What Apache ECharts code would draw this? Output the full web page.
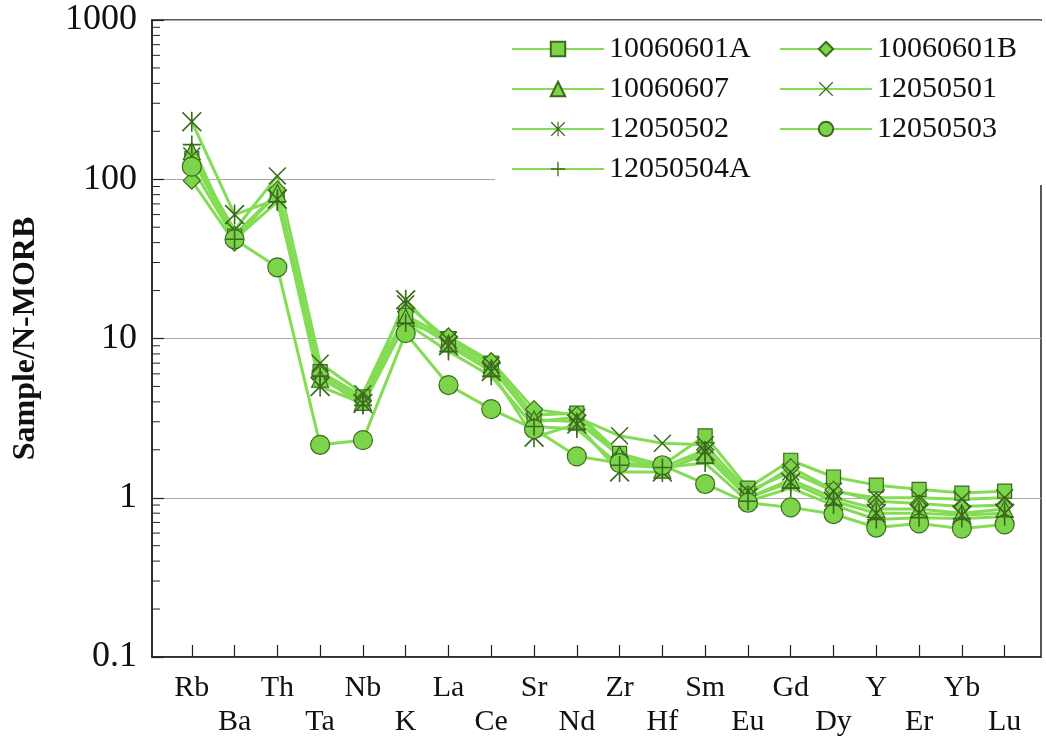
<!DOCTYPE html>
<html>
<head>
<meta charset="utf-8">
<script src="https://cdn.jsdelivr.net/npm/echarts@6/dist/echarts.min.js"></script>
<style>
  html, body { margin: 0; padding: 0; background: #fff; }
  #spider-chart { width: 1046px; height: 742px; }
</style>
</head>
<body>
<div id="spider-chart"></div>
<script>
// element order on the x axis
const elements = ['Rb', 'Ba', 'Th', 'Ta', 'Nb', 'K', 'La', 'Ce', 'Sr', 'Nd',
  'Zr', 'Hf', 'Sm', 'Eu', 'Gd', 'Dy', 'Y', 'Er', 'Yb', 'Lu'];

// sample / N-MORB values
const s10060601A = [135, 44, 80, 6.2, 4.3, 14, 10, 7.0, 3.3, 3.4, 1.9, 1.6, 2.45, 1.15, 1.72, 1.35, 1.2, 1.13, 1.07, 1.1];
const s10060601B = [98, 40, 86, 6.0, 4.1, 12.5, 10.3, 7.2, 3.6, 3.3, 1.8, 1.55, 2.0, 1.05, 1.55, 1.12, 0.95, 0.92, 0.88, 0.9];
const s10060607 = [150, 45, 82, 5.6, 4.0, 13.5, 9.3, 6.5, 3.1, 3.0, 1.85, 1.5, 1.85, 1.0, 1.3, 1.0, 0.85, 0.85, 0.8, 0.85];
const s12050501 = [140, 48, 105, 7.0, 4.5, 16.5, 9.8, 6.8, 3.0, 3.2, 2.45, 2.2, 2.15, 1.1, 1.45, 1.1, 1.0, 1.0, 0.98, 1.0];
const s12050502 = [230, 60, 75, 5.0, 3.9, 17.5, 9.0, 6.2, 2.4, 2.9, 1.45, 1.45, 1.95, 1.0, 1.25, 0.95, 0.8, 0.8, 0.78, 0.8];
const s12050503 = [120, 42, 28, 2.15, 2.3, 10.8, 5.1, 3.6, 2.7, 1.82, 1.65, 1.6, 1.22, 0.93, 0.87, 0.79, 0.65, 0.69, 0.64, 0.68];
const s12050504A = [165, 42, 72, 5.8, 3.8, 12.5, 8.3, 5.8, 2.8, 2.7, 1.6, 1.55, 1.65, 0.95, 1.15, 0.9, 0.73, 0.75, 0.74, 0.76];

// log axis minor ticks (2..9 in each decade)
const minorSteps = [2, 3, 4, 5, 6, 7, 8, 9];
const decades = [0.1, 1, 10, 100];

const lineGreen = '#84dc55';
const fillGreen = '#7bd44a';
const darkGreen = '#3c6a1d';
const serif = '"Liberation Serif", "Times New Roman", serif';

const xPath = 'path://M0,1.2L1.2,0L20,18.8L18.8,20Z M18.8,0L20,1.2L1.2,20L0,18.8Z';
const starPath = 'path://M0,1.2L1.2,0L20,18.8L18.8,20Z M18.8,0L20,1.2L1.2,20L0,18.8Z M9.2,0H10.8V20H9.2Z';
const plusPath = 'path://M9.1,0H10.9V9.1H20V10.9H10.9V20H9.1V10.9H0V9.1H9.1Z';

const xMin = -0.93;
const xMax = 19.85;

function toPoints(arr) {
  return arr.map((v, i) => [i, v]);
}

function makeSeries(name, values, symbol, size, filled) {
  return {
    name: name,
    type: 'line',
    data: toPoints(values),
    symbol: symbol,
    symbolSize: size,
    symbolKeepAspect: true,
    lineStyle: { color: lineGreen, width: 3 },
    itemStyle: filled
      ? { color: fillGreen, borderColor: darkGreen, borderWidth: 1.2 }
      : { color: darkGreen, borderWidth: 0 },
    emphasis: { disabled: true },
    z: 3
  };
}

let minorTicks = [];
decades.forEach(d => minorSteps.forEach(m => minorTicks.push(d * m)));

let myChart = echarts.init(document.getElementById('spider-chart'));
let option = {
  animation: false,
  backgroundColor: '#fff',
  grid: {
    left: 152, right: 5, top: 20, bottom: 85,
    containLabel: false,
    outerBoundsMode: 'none',
    show: true, borderColor: '#222', borderWidth: 1.5, backgroundColor: 'transparent'
  },
  legend: {
    data: ['10060601A', '10060601B', '10060607', '12050501', '12050502', '12050503', '12050504A'],
    left: 495,
    top: 21,
    width: 540,
    padding: [13, 5, 1, 16],
    itemWidth: 92,
    itemHeight: 18,
    itemGap: 10,
    backgroundColor: '#fff',
    lineStyle: { width: 2 },
    textStyle: { fontFamily: serif, fontSize: 30, color: '#111', width: 160, lineHeight: 30 }
  },
  xAxis: {
    type: 'value',
    min: xMin,
    max: xMax,
    minInterval: 1,
    maxInterval: 1,
    splitLine: { show: false },
    axisLine: { show: true, onZero: false, lineStyle: { color: '#222', width: 1.5 } },
    axisTick: { show: true, inside: true, length: 12, lineStyle: { color: '#222', width: 1.2 } },
    axisLabel: {
      showMinLabel: false,
      showMaxLabel: false,
      margin: 14,
      fontFamily: serif,
      fontSize: 30,
      lineHeight: 34,
      color: '#111',
      formatter: function (v) {
        if (Math.abs(v - Math.round(v)) > 1e-6) return '';
        const i = Math.round(v);
        if (i < 0 || i >= elements.length) return '';
        return i % 2 === 0 ? elements[i] : '\n' + elements[i];
      }
    }
  },
  yAxis: {
    type: 'log',
    logBase: 10,
    min: 0.1,
    max: 1000,
    name: 'Sample/N-MORB',
    nameLocation: 'middle',
    nameGap: 110,
    nameTextStyle: { fontFamily: serif, fontSize: 32, fontWeight: 'bold', color: '#111' },
    axisLine: { show: true, onZero: false, lineStyle: { color: '#222', width: 1.5 } },
    axisTick: { show: true, inside: true, length: 12, lineStyle: { color: '#222', width: 1.2 } },
    splitLine: { show: true, lineStyle: { color: '#a8a8a8', width: 1 } },
    axisLabel: {
      margin: 15,
      fontFamily: serif,
      fontSize: 36,
      color: '#111',
      formatter: function (v) { return String(v); }
    }
  },
  series: [
    makeSeries('10060601A', s10060601A, 'rect', 14, true),
    makeSeries('10060601B', s10060601B, 'diamond', 17, true),
    makeSeries('10060607', s10060607, 'triangle', 17, true),
    makeSeries('12050501', s12050501, xPath, 18, false),
    makeSeries('12050502', s12050502, starPath, 20, false),
    makeSeries('12050503', s12050503, 'circle', 19, true),
    makeSeries('12050504A', s12050504A, plusPath, 18, false),
    {
      name: 'minor-ticks',
      type: 'custom',
      silent: true,
      clip: false,
      z: 1,
      encode: { y: 0 },
      data: minorTicks.map(v => [v]),
      renderItem: function (params, api) {
        const p = api.coord([xMin, api.value(0)]);
        return {
          type: 'line',
          shape: { x1: p[0], y1: p[1], x2: p[0] + 8, y2: p[1] },
          style: { stroke: '#222', lineWidth: 1 }
        };
      }
    }
  ]
};

option && myChart.setOption(option);
</script>
</body>
</html>
